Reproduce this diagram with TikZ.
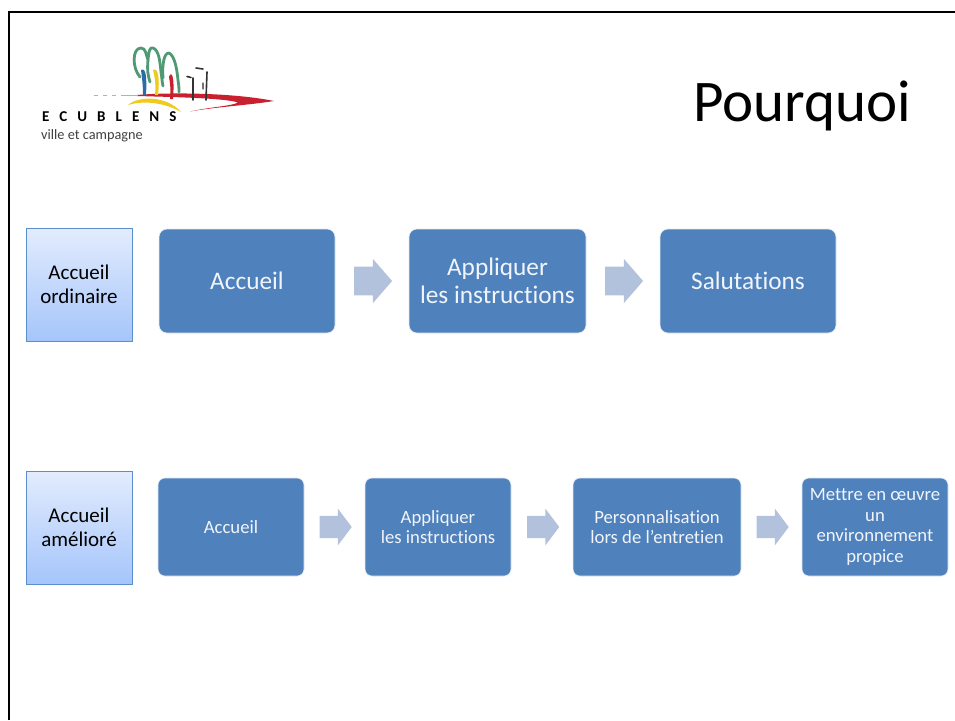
\documentclass[tikz,border=0pt]{standalone}
\usepackage{fontspec}
\setmainfont[Ligatures=NoCommon]{Carlito}
\usetikzlibrary{shapes.arrows,calc}
\definecolor{boxblue}{HTML}{4F81BD}
\definecolor{arrowblue}{HTML}{B3C2DC}
\definecolor{edgeblue}{HTML}{5B8FCC}
\definecolor{tagtop}{HTML}{E3ECFD}
\definecolor{tagbot}{HTML}{A5C5FB}
\definecolor{treegreen}{HTML}{4F9A72}
\definecolor{logored}{HTML}{C8202E}
\definecolor{logoyellow}{HTML}{EFCB20}
\definecolor{logoblue}{HTML}{2F6AA8}
\tikzset{
  x=1pt,y=-1pt,
  bigstep/.style={draw=white!85!boxblue,line width=.6pt,fill=boxblue,rounded corners=8pt,text=white!92!boxblue,align=center,inner sep=2pt,font=\fontsize{25.3}{28}\selectfont},
  smallstep/.style={bigstep,rounded corners=7pt,font=\fontsize{18.7}{20.5}\selectfont},
  tag/.style={draw=edgeblue,line width=.8pt,top color=tagtop,bottom color=tagbot,align=center,text=black,inner sep=1pt,minimum width=106pt,minimum height=113pt,font=\fontsize{21}{24.5}\selectfont},
  bigarrow/.style={single arrow,draw=none,fill=arrowblue,inner sep=0pt,inner ysep=13.5pt,minimum height=38pt,minimum width=44pt,single arrow head indent=0pt,single arrow tip angle=98,xshift=-5.2pt},
  smallarrow/.style={single arrow,draw=none,fill=arrowblue,inner sep=0pt,inner ysep=11pt,minimum height=32pt,minimum width=36pt,single arrow head indent=0pt,single arrow tip angle=106,xshift=-3pt},
  tree/.style={draw=treegreen,line width=2.8pt,line cap=round,line join=round},
  stem/.style={line width=1.6pt,draw=black!80,line cap=round}
}
\begin{document}
\begin{tikzpicture}
\useasboundingbox (0,0) rectangle (955,720);
\fill[white] (0,0) rectangle (955,720);
% frame
\draw[black,line width=2.6pt] (9,720) -- (9,12) -- (955,12);
% logo
\draw[tree] (140,77) .. controls (132,68) and (132,48) .. (141,48) .. controls (146,48) and (146,55) .. (148,60)
  .. controls (149,50) and (150,47) .. (153,48) .. controls (159,50) and (160,62) .. (161,72) .. controls (162,78) and (162,82) .. (163,86);
\draw[tree] (163,78) .. controls (162,64) and (164,53) .. (169,53) .. controls (175,56) and (177,70) .. (178,80) .. controls (179,86) and (179,89) .. (179,92);
\draw[tree] (148,60) .. controls (147,70) and (148,76) .. (150,82);
\fill[logored] (137,95) .. controls (170,92) and (235,93) .. (274,101)
  .. controls (250,105) and (215,107) .. (190,111.5)
  .. controls (210,107) and (232,106) .. (238,102.5)
  .. controls (225,98) and (170,97) .. (137,96) -- cycle;
\draw[black!30,line width=1pt,dash pattern=on 4pt off 5pt] (94,95.5) -- (124,95.5);
\draw[logored!45,line width=1pt] (124,95.5) -- (138,95.5);
\fill[logoyellow] (128,105) .. controls (138,96) and (166,95) .. (181,112) .. controls (165,103) and (145,100) .. (128,105) -- cycle;
\fill[logoblue] (141,70) .. controls (146,67) and (147,78) .. (146,95) -- (143,95) .. controls (143,85) and (142,78) .. (141,70) -- cycle;
\fill[logoyellow] (153,70) .. controls (158,67) and (160,78) .. (158,95) -- (155,95) .. controls (156,85) and (155,78) .. (153,70) -- cycle;
\fill[logored] (169,77) .. controls (171,71) and (175,74) .. (173,99) -- (170,99) .. controls (171,90) and (170,82) .. (169,77) -- cycle;
\draw[stem] (193,78) -- (193,100);
\draw[stem] (207,72) -- (206,100);
\draw[stem] (187,76.5) -- (191,77.5);
\draw[stem] (196,68) -- (203,69);
\draw[stem,draw=black!55,line width=1.2pt] (203,83) -- (203,89);
\node[anchor=base west,inner sep=0pt,font=\fontsize{15}{16}\selectfont\bfseries\addfontfeatures{LetterSpace=67}] (town) at (42,121.5) {ECUBLENS};
\node[anchor=base west,inner sep=0pt,text=black!75,font=\fontsize{14.3}{16}\selectfont] (motto) at (41,139) {ville et campagne};
% title
\node[anchor=base,inner sep=0pt,font=\fontsize{59}{60}\selectfont] (title) at (802,121) {Pourquoi};
% row 1
\node[tag] (t1) at (79,284.5) {Accueil\\ordinaire};
\node[bigstep,minimum width=176pt,minimum height=104pt] (a1) at (247,281) {Accueil};
\node[bigstep,minimum width=177pt,minimum height=104pt] (a2) at (497.5,281) {Appliquer\\les instructions};
\node[bigstep,minimum width=176pt,minimum height=104pt] (a3) at (748,281) {Salutations};
\node[bigarrow] (ar1) at ($(a1.east)!0.5!(a2.west)$) {};
\node[bigarrow] (ar2) at ($(a2.east)!0.5!(a3.west)$) {};
% row 2
\node[tag] (t2) at (79,527.5) {Accueil\\amélioré};
\node[smallstep,minimum width=146pt,minimum height=98pt] (b1) at (231,527) {Accueil};
\node[smallstep,minimum width=146pt,minimum height=98pt] (b2) at (438,527) {Appliquer\\les instructions};
\node[smallstep,minimum width=168pt,minimum height=98pt] (b3) at (657,527) {Personnalisation\\lors de l’entretien};
\node[smallstep,minimum width=146pt,minimum height=98pt] (b4) at (875,527) {Mettre en œuvre\\un\\environnement\\propice};
\node[smallarrow] (br1) at ($(b1.east)!0.5!(b2.west)$) {};
\node[smallarrow] (br2) at ($(b2.east)!0.5!(b3.west)$) {};
\node[smallarrow] (br3) at ($(b3.east)!0.5!(b4.west)$) {};
\end{tikzpicture}
\end{document}
